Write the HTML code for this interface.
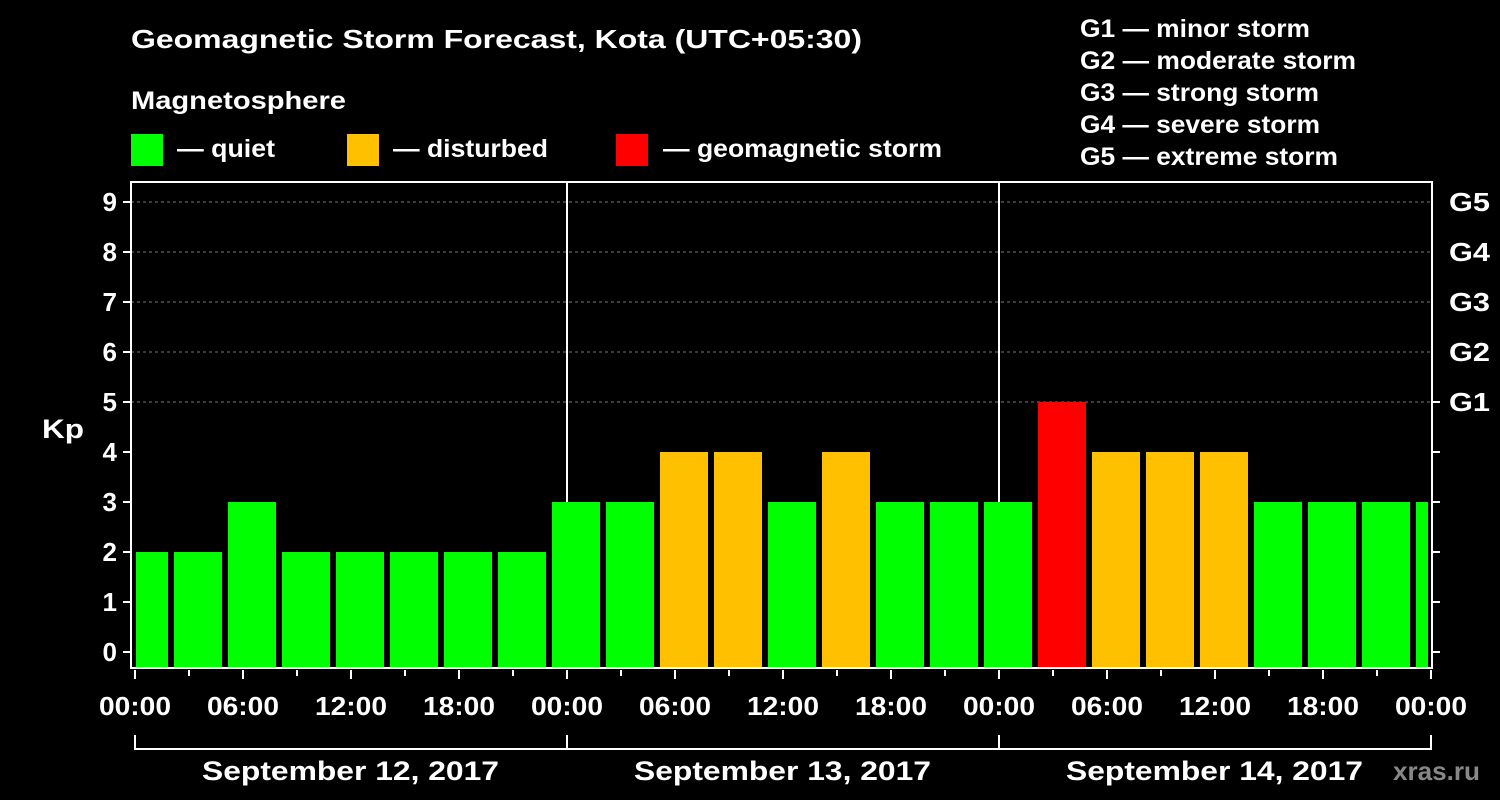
<!DOCTYPE html>
<html><head><meta charset="utf-8"><style>
body{margin:0;background:#000;}
svg{display:block;font-family:"Liberation Sans",Arial,sans-serif;font-weight:bold;}
</style></head><body>
<svg id="c" width="1500" height="800" viewBox="0 0 1500 800">
<rect width="1500" height="800" fill="#000"/>
<text x="131" y="48" fill="#fff" font-size="26" textLength="731" lengthAdjust="spacingAndGlyphs">Geomagnetic Storm Forecast, Kota (UTC+05:30)</text>
<text x="131" y="109" fill="#fff" font-size="25" textLength="215" lengthAdjust="spacingAndGlyphs">Magnetosphere</text>
<g><rect x="131" y="134" width="32" height="32" fill="#00ff00"/><text x="177" y="157" fill="#fff" font-size="25" textLength="98" lengthAdjust="spacingAndGlyphs">— quiet</text></g>
<g><rect x="347" y="134" width="32" height="32" fill="#ffc000"/><text x="393" y="157" fill="#fff" font-size="25" textLength="155" lengthAdjust="spacingAndGlyphs">— disturbed</text></g>
<g><rect x="616" y="134" width="32" height="32" fill="#ff0000"/><text x="663" y="157" fill="#fff" font-size="25" textLength="279" lengthAdjust="spacingAndGlyphs">— geomagnetic storm</text></g>
<g fill="#fff" font-size="25" lengthAdjust="spacingAndGlyphs">
<text x="1080" y="37" textLength="230" lengthAdjust="spacingAndGlyphs">G1 — minor storm</text><text x="1080" y="69" textLength="276" lengthAdjust="spacingAndGlyphs">G2 — moderate storm</text><text x="1080" y="101" textLength="239" lengthAdjust="spacingAndGlyphs">G3 — strong storm</text><text x="1080" y="133" textLength="240" lengthAdjust="spacingAndGlyphs">G4 — severe storm</text><text x="1080" y="165" textLength="258" lengthAdjust="spacingAndGlyphs">G5 — extreme storm</text></g>
<text x="42" y="438" fill="#fff" font-size="27" textLength="42" lengthAdjust="spacingAndGlyphs">Kp</text>
<text x="1393" y="780" fill="#888" font-size="26" textLength="87" lengthAdjust="spacingAndGlyphs">xras.ru</text>
<g id="grid"></g><g id="bars"></g><g id="axes"></g>
</svg>
<script>
const kpValues=[2,2,3,2,2,2,2,2,3,3,4,4,3,4,3,3,3,5,4,4,4,3,3,3,3];
const yTicks=[0,1,2,3,4,5,6,7,8,9];
const gLabels=["G1","G2","G3","G4","G5"];
const xTickLabels=["00:00","06:00","12:00","18:00","00:00","06:00","12:00","18:00","00:00","06:00","12:00","18:00","00:00"];
const dateLabels=["September 12, 2017","September 13, 2017","September 14, 2017"];
const NS="http://www.w3.org/2000/svg";
const L=131,R=1432,T=182,B=668,X0=135,DAY=432;
const y=v=>652-v*50;
const x=h=>X0+h*DAY/24;
function mk(tag,at,par,txt){const e=document.createElementNS(NS,tag);for(const k in at)e.setAttribute(k,at[k]);if(txt!=null)e.textContent=txt;document.getElementById(par).appendChild(e);return e;}
for(let v=5;v<=9;v++){const e=mk('line',{x1:L,x2:R,y1:y(v),y2:y(v),stroke:'#777','stroke-dasharray':'3,3'},'grid');

}
for(let d=1;d<3;d++){const e=mk('line',{x1:x(24*d),x2:x(24*d),y1:T,y2:B,stroke:'#fff','stroke-width':2},'grid');

}
kpValues.forEach((v,i)=>{
 const start=2.5+3*(i-1);
 let x1=x(start)-6,x2=x1+48;
 x1=Math.max(x1,136);x2=Math.min(x2,1428);
 const col=v>=5?'#ff0000':v>=4?'#ffc000':'#00ff00';
 const e=mk('rect',{x:x1,y:y(v),width:x2-x1,height:667-y(v),fill:col},'bars');
 
 
});
const ax=mk('path',{d:`M${L},${T}V${B}H${R}V${T}Z`,fill:'none',stroke:'#fff','stroke-width':2},'axes');


yTicks.forEach(v=>{
 mk('line',{x1:123,x2:L,y1:y(v),y2:y(v),stroke:'#fff','stroke-width':2},'axes');
 const t=mk('text',{x:117,y:y(v)+9,fill:'#fff','font-size':26,'text-anchor':'end'},'axes',v);
 
 
 if(v<=5){mk('line',{x1:R,x2:R+8,y1:y(v),y2:y(v),stroke:'#fff','stroke-width':2},'axes');}
});
gLabels.forEach((g,i)=>{const t=mk('text',{x:1449,y:y(5+i)+9,fill:'#fff','font-size':26,textLength:41,lengthAdjust:'spacingAndGlyphs'},'axes',g);

});
for(let h=0;h<=72;h+=3){const major=h%6===0;mk('line',{x1:x(h),x2:x(h),y1:670,y2:major?679:676,stroke:'#fff','stroke-width':2},'axes');}
xTickLabels.forEach((s,i)=>{const t=mk('text',{x:x(i*6)-36,y:715,fill:'#fff','font-size':26,textLength:72,lengthAdjust:'spacingAndGlyphs'},'axes',s);

});
mk('path',{d:`M${x(0)},735V749H${x(72)}V735M${x(24)},735V749M${x(48)},735V749`,fill:'none',stroke:'#fff','stroke-width':2},'axes');
dateLabels.forEach((s,i)=>{const t=mk('text',{x:x(24*i+12)-149,y:780,fill:'#fff','font-size':27,textLength:297,lengthAdjust:'spacingAndGlyphs'},'axes',s);

});
</script>
</body></html>
